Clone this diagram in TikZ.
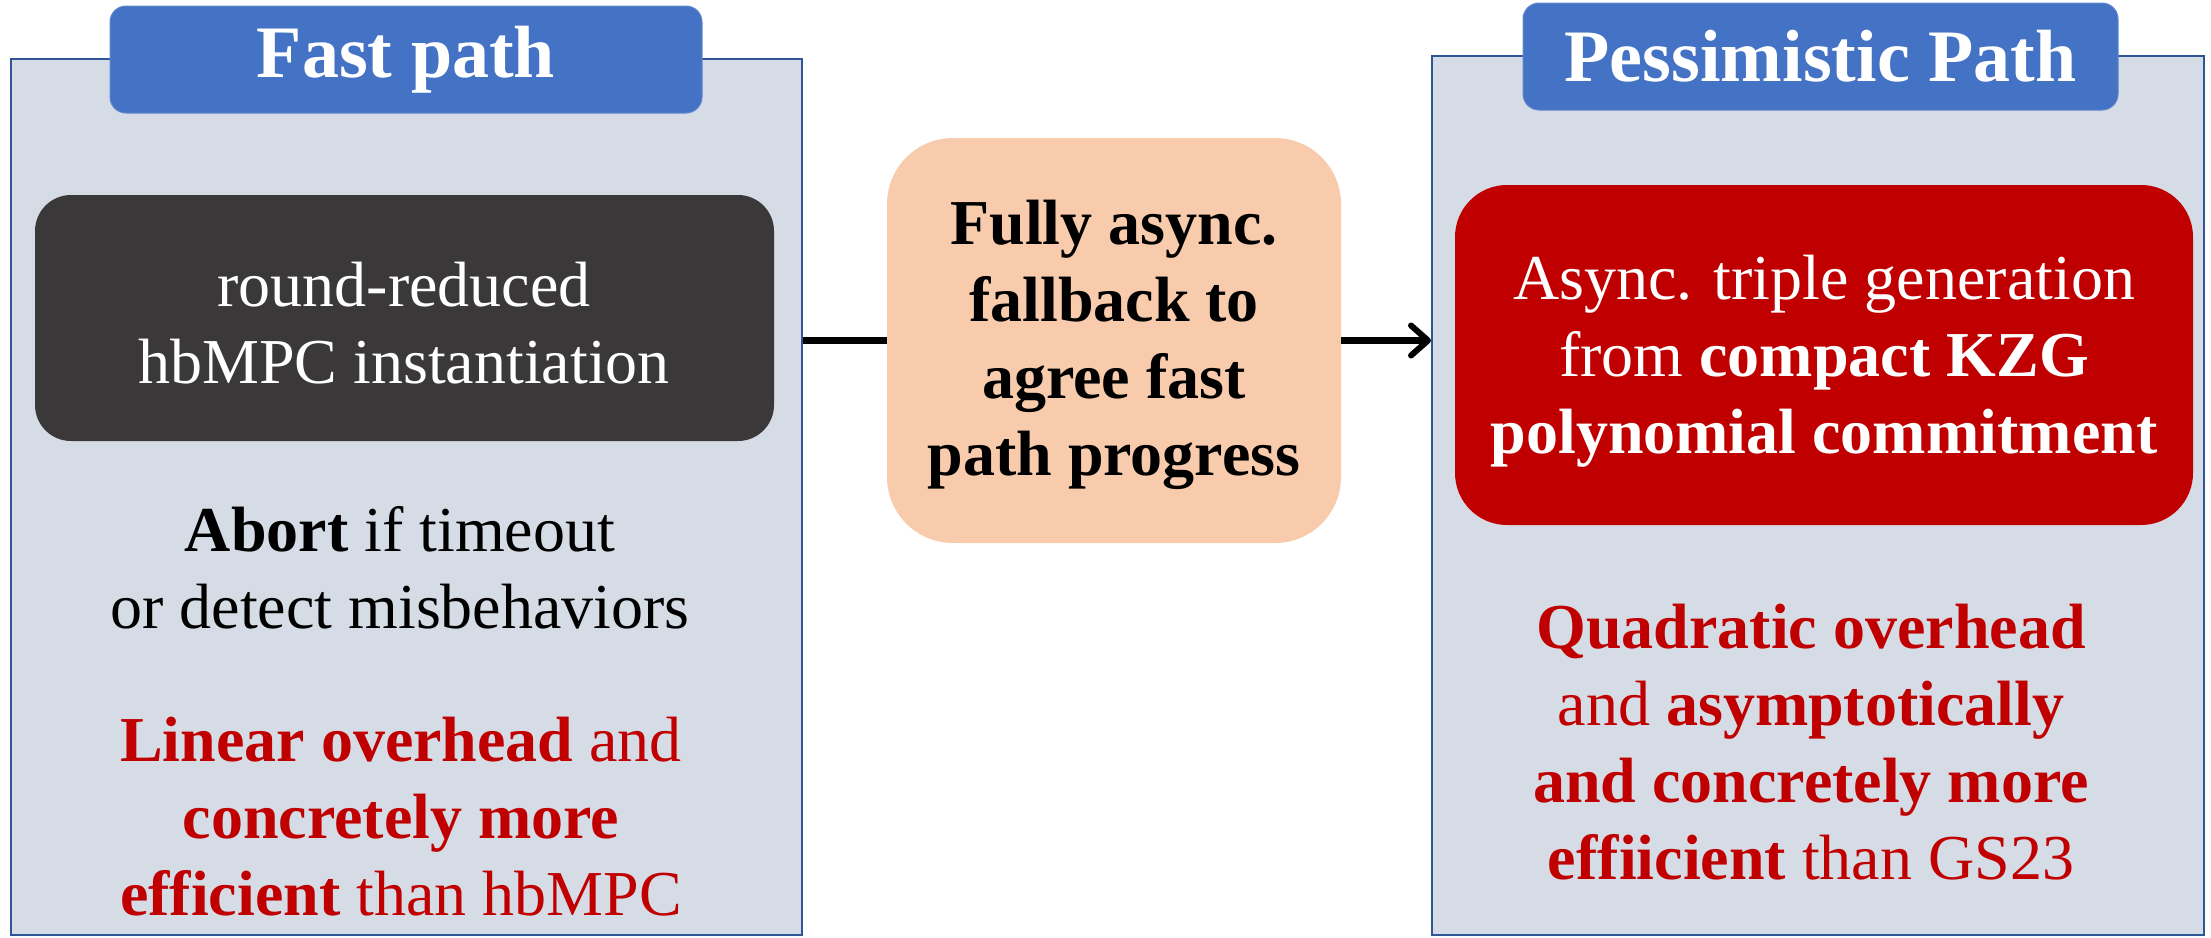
\documentclass[tikz,border=0pt]{standalone}
\usepackage{fontspec}
\setmainfont{Liberation Serif}
\usetikzlibrary{arrows.meta}
\definecolor{panelfill}{HTML}{D6DCE5}
\definecolor{panelline}{HTML}{2F5597}
\definecolor{tabblue}{HTML}{4472C4}
\definecolor{darkbox}{HTML}{3A3838}
\definecolor{peach}{HTML}{F8CBAD}
\definecolor{deepred}{HTML}{C00000}

\begin{document}
\begin{tikzpicture}[x=1pt,y=-1pt,
  panel/.style={draw=panelline, line width=2pt, fill=panelfill, inner sep=0pt},
  tabbox/.style={fill=tabblue, draw=tabblue!85!white, line width=1pt, rounded corners=16pt,
    inner sep=0pt, text=white, font=\fontsize{74}{88}\selectfont\bfseries},
  bodytext/.style={align=center, inner sep=0pt, font=\fontsize{64}{77}\selectfont},
  darkstep/.style={fill=darkbox, rounded corners=36pt, inner sep=0pt},
  redstep/.style={fill=deepred, rounded corners=52pt, inner sep=0pt},
  midstep/.style={fill=peach, rounded corners=66pt, inner sep=0pt},
  link/.style={line width=6.3pt, black},
  >={Straight Barb[length=17pt,width=30pt,line width=6pt,round]}
]
\useasboundingbox (0,0) rectangle (2211,937);

% left panel: fast path
\node[panel, minimum width=791pt, minimum height=876pt] (fastpanel) at (406.5,497) {};
\node[tabbox, minimum width=592pt, minimum height=107pt] (fasttab) at (406,59.5) {Fast path};
\node[darkstep, minimum width=739pt, minimum height=246pt] (hbbox) at (404.5,318) {};
\node[bodytext, text=white] (hbtext) at (404,323) {round-reduced\\hbMPC instantiation};
\node[bodytext, text=black] (aborttext) at (400,568) {\textbf{Abort} if timeout\\or detect misbehaviors};
\node[bodytext, text=deepred] (fastcost) at (401,817)
  {\textbf{Linear overhead} and\\\textbf{concretely more}\\\textbf{efficient} than hbMPC};

% right panel: pessimistic path
\node[panel, minimum width=772pt, minimum height=879pt] (pesspanel) at (1818,495.5) {};
\node[tabbox, minimum width=595pt, minimum height=107pt] (pesstab) at (1820.5,56.5) {Pessimistic Path};
\node[redstep, minimum width=738pt, minimum height=340pt] (kzgbox) at (1824,355) {};
\node[bodytext, text=white] (kzgtext) at (1824,361)
  {Async. triple generation\\from \textbf{compact KZG}\\\textbf{polynomial commitment}};
\node[bodytext, text=deepred] (pesscost) at (1811,742)
  {\textbf{Quadratic overhead}\\and \textbf{asymptotically}\\\textbf{and concretely more}\\\textbf{effiicient} than GS23};

% fallback in the middle
\node[midstep, minimum width=454pt, minimum height=405pt] (fallback) at (1114,340.5) {};
\node[bodytext, text=black, font=\fontsize{64}{77}\selectfont\bfseries] (fallbacktext) at (1114,345)
  {Fully async.\\fallback to\\agree fast\\path progress};

% connectors
\draw[link] (fastpanel.east |- fallback.west) -- (fallback.west);
\draw[link, ->] (fallback.east) -- (fallback.east -| pesspanel.west);
\end{tikzpicture}
\end{document}
